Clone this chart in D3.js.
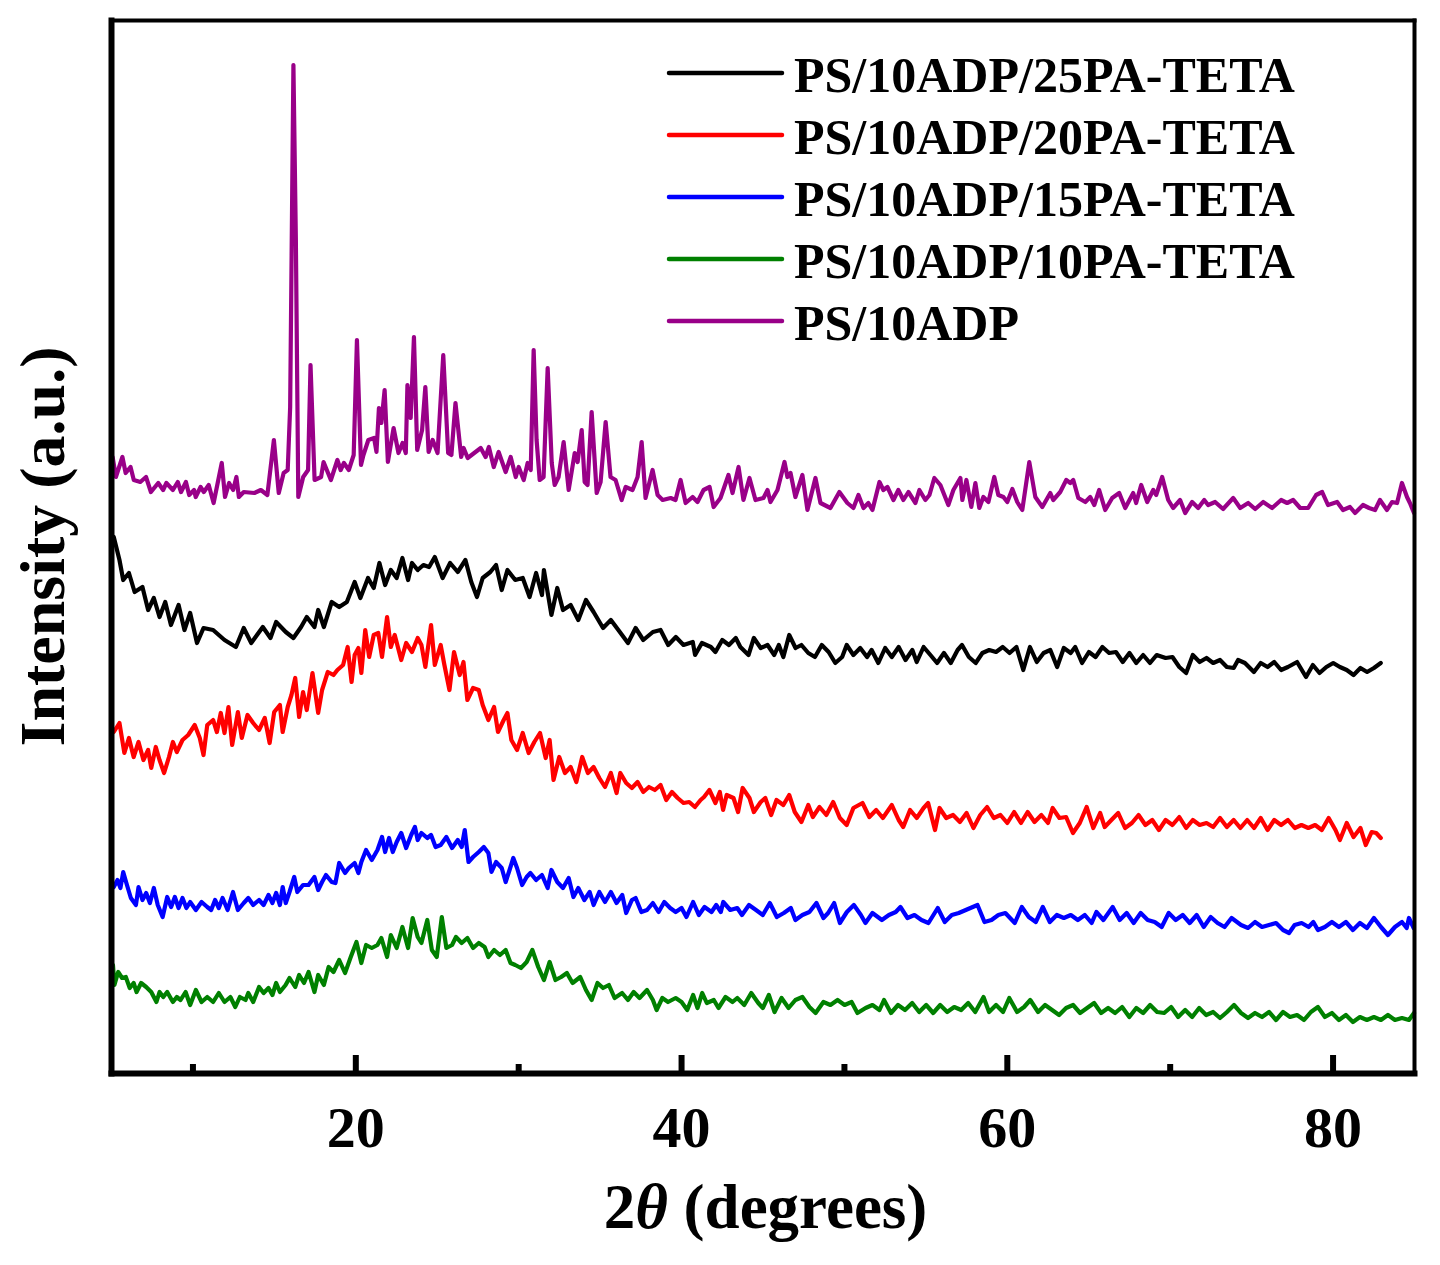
<!DOCTYPE html>
<html>
<head>
<meta charset="utf-8">
<script src="https://cdn.jsdelivr.net/npm/d3@7"></script>
<style>
  body { margin: 0; background: #fff; }
  svg text { font-family: "Liberation Serif", "Times New Roman", serif; font-weight: bold; fill: #000; }
</style>
</head>
<body>
<div id="chart"></div>
<script>
// ====================
// Data (2θ in degrees, intensity in a.u. with the stacking offset included)
// ====================

// PS/10ADP/25PA-TETA
const theta25 = [
  5.17,5.52,5.75,6.10,6.45,6.93,7.28,7.63,7.98,8.33,
  8.68,9.15,9.51,9.86,10.28,10.68,11.27,11.97,12.67,13.15,
  13.61,14.32,14.79,15.14,15.73,16.20,16.67,17.02,17.49,17.72,
  18.07,18.55,19.01,19.48,19.72,19.96,20.31,20.78,21.13,21.48,
  21.83,22.18,22.54,22.89,23.24,23.48,23.83,24.18,24.53,24.88,
  25.36,25.82,26.29,26.76,27.12,27.47,27.82,28.29,28.64,28.99,
  29.34,29.82,30.28,30.70,31.10,31.46,31.58,32.04,32.40,32.75,
  33.22,33.69,34.16,34.63,35.21,35.69,36.15,36.74,37.21,37.68,
  38.27,38.74,39.21,39.68,40.15,40.72,40.86,41.28,41.83,42.11,
  42.53,42.94,43.36,43.64,44.14,44.47,44.89,45.31,45.72,46.00,
  46.28,46.64,47.03,47.39,47.81,48.22,48.64,49.06,49.47,49.89,
  50.17,50.58,51.00,51.42,51.70,52.11,52.53,52.94,53.36,53.78,
  54.20,54.47,54.89,55.31,55.72,56.14,56.56,56.98,57.25,57.67,
  58.09,58.50,58.92,59.34,59.75,60.17,60.59,61.01,61.42,61.84,
  62.26,62.67,63.09,63.50,63.92,64.20,64.62,65.04,65.45,65.87,
  66.28,66.70,67.12,67.53,67.95,68.37,68.79,69.20,69.75,70.17,
  70.59,71.01,71.42,71.84,72.26,72.67,73.09,73.51,73.93,74.20,
  74.62,75.17,75.59,76.01,76.42,76.84,77.26,77.82,78.37,78.79,
  79.20,79.62,80.04,80.45,80.87,81.29,81.71,82.12,82.54,82.96
];
const int25 = [
  538,515,495,502,483,488,465,477,458,473,
  450,470,445,462,432,447,445,435,428,447,
  432,448,437,453,443,437,448,458,448,465,
  448,473,468,473,483,493,477,497,487,512,
  490,505,497,517,495,512,505,510,508,518,
  497,512,503,515,493,478,497,503,510,485,
  505,495,497,478,502,480,505,460,487,465,
  470,455,475,463,447,455,445,432,447,435,
  443,445,430,438,430,433,420,432,428,423,
  435,430,437,428,420,437,427,430,420,430,
  418,440,427,430,422,418,430,423,412,418,
  430,420,427,418,425,412,427,418,428,415,
  425,413,428,420,412,422,412,425,430,418,
  412,422,425,423,428,422,428,405,428,413,
  422,425,408,427,422,428,412,423,418,428,
  422,423,413,422,412,420,412,420,417,418,
  408,402,420,413,417,412,415,408,407,415,
  412,403,412,408,413,405,408,413,398,410,
  402,408,412,408,405,400,407,403,407,412
];

// PS/10ADP/20PA-TETA
const theta20 = [
  5.17,5.52,5.82,6.10,6.39,6.69,6.99,7.28,7.47,7.75,
  7.98,8.26,8.56,8.80,9.04,9.39,9.74,10.14,10.45,10.68,
  10.91,11.27,11.50,11.74,11.97,12.21,12.44,12.79,13.03,13.38,
  13.73,14.09,14.44,14.74,15.02,15.37,15.54,15.85,16.08,16.31,
  16.55,16.79,17.02,17.37,17.72,17.96,18.31,18.66,18.90,19.25,
  19.53,19.77,19.96,20.19,20.37,20.61,20.85,21.13,21.41,21.64,
  21.95,22.18,22.42,22.82,23.12,23.48,23.83,24.06,24.30,24.65,
  24.88,25.24,25.47,25.78,26.06,26.41,26.64,26.88,27.23,27.58,
  27.82,28.17,28.52,28.76,29.11,29.34,29.58,29.93,30.28,30.64,
  30.99,31.34,31.69,31.93,32.17,32.52,32.87,33.22,33.57,33.93,
  34.28,34.63,34.98,35.33,35.69,36.04,36.27,36.63,36.98,37.33,
  37.68,38.03,38.39,38.74,39.09,39.44,39.79,40.15,40.50,40.85,
  41.20,41.41,41.74,42.11,42.38,42.58,42.80,43.22,43.50,43.78,
  44.20,44.47,44.89,45.17,45.53,45.86,46.28,46.64,46.98,47.39,
  47.81,48.09,48.50,48.92,49.34,49.75,50.17,50.58,51.14,51.56,
  51.98,52.39,52.94,53.36,53.64,54.06,54.47,54.89,55.17,55.59,
  55.87,56.28,56.70,57.12,57.53,57.95,58.37,58.79,59.20,59.61,
  60.03,60.45,60.87,61.28,61.70,62.12,62.53,62.81,63.23,63.64,
  64.06,64.48,64.90,65.31,65.73,66.01,66.42,66.84,67.26,67.68,
  68.09,68.51,68.93,69.34,69.75,70.17,70.59,71.01,71.42,71.84,
  72.26,72.67,73.09,73.51,73.93,74.34,74.76,75.18,75.59,76.01,
  76.42,76.84,77.26,77.68,78.09,78.51,78.93,79.34,79.76,80.18,
  80.45,80.87,81.29,81.71,82.04,82.40,82.68,82.96
];
const int20 = [
  343,352,322,337,318,333,315,325,307,328,
  315,302,318,333,323,335,340,350,337,320,
  350,355,343,362,342,368,330,363,337,360,
  352,345,357,332,363,370,343,368,380,397,
  358,383,365,402,362,385,403,400,405,410,
  428,393,420,427,402,445,418,440,442,418,
  458,428,440,415,432,423,437,430,408,450,
  410,430,410,385,423,400,413,375,387,385,
  370,355,368,343,355,362,335,325,342,322,
  333,342,317,335,295,318,302,308,293,318,
  302,308,297,288,302,282,302,292,287,293,
  283,288,285,290,275,283,277,272,273,268,
  275,278,285,272,283,265,280,277,263,287,
  277,263,273,277,260,275,270,280,263,253,
  270,258,268,260,273,257,250,267,272,258,
  265,257,270,255,248,265,257,267,272,245,
  267,257,260,253,262,247,260,268,257,260,
  252,263,252,263,253,260,252,267,257,258,
  242,252,268,247,262,248,255,262,247,252,
  260,250,255,245,255,250,258,247,255,250,
  252,248,257,248,255,247,255,247,257,245,
  255,250,255,247,250,247,250,245,257,245,
  235,252,238,247,230,243,242,237
];

// PS/10ADP/15PA-TETA
const theta15 = [
  5.17,5.40,5.58,5.75,5.98,6.22,6.53,6.69,6.93,7.16,
  7.39,7.63,7.87,8.17,8.45,8.69,8.92,9.15,9.39,9.63,
  9.86,10.21,10.56,10.91,11.15,11.39,11.62,11.85,12.16,12.49,
  12.79,13.15,13.43,13.73,14.09,14.37,14.67,14.91,15.14,15.37,
  15.54,15.73,15.96,16.25,16.44,16.79,17.13,17.49,17.72,17.96,
  18.20,18.55,18.78,19.01,19.37,19.60,19.96,20.19,20.37,20.66,
  21.01,21.36,21.64,21.83,22.07,22.30,22.54,22.82,23.12,23.43,
  23.66,23.83,24.06,24.42,24.65,24.93,25.24,25.59,25.94,26.29,
  26.53,26.72,26.95,27.23,27.58,27.89,28.17,28.36,28.64,28.99,
  29.23,29.47,29.70,29.93,30.24,30.52,30.75,31.10,31.46,31.81,
  32.04,32.40,32.75,33.10,33.39,33.69,34.06,34.39,34.63,34.98,
  35.33,35.69,36.04,36.39,36.63,36.98,37.21,37.56,37.91,38.27,
  38.62,38.97,39.33,39.67,40.03,40.33,40.74,41.09,41.44,41.87,
  42.16,42.44,42.59,43.02,43.45,43.74,44.17,44.60,45.02,45.45,
  45.88,46.31,46.74,47.02,47.45,47.88,48.31,48.74,49.03,49.40,
  49.75,50.18,50.61,51.04,51.32,51.75,52.33,52.76,53.18,53.47,
  53.90,54.33,54.76,55.19,55.76,56.19,56.62,57.05,57.48,57.91,
  58.20,58.63,59.06,59.48,59.91,60.49,60.92,61.35,61.78,62.21,
  62.64,63.07,63.50,63.93,64.36,64.79,65.21,65.50,65.93,66.50,
  66.93,67.36,67.79,68.22,68.65,69.08,69.51,69.94,70.37,70.80,
  71.23,71.66,72.09,72.52,72.94,73.37,73.80,74.38,74.81,75.24,
  75.67,76.10,76.53,76.96,77.33,77.67,78.10,78.53,78.82,79.10,
  79.53,79.96,80.39,80.82,81.25,81.68,82.11,82.54,82.97,83.40,
  83.83,84.26,84.55,84.69,84.98
];
const int15 = [
  188,195,187,203,190,177,170,188,175,182,
  172,187,170,158,178,168,178,167,177,167,
  173,165,173,168,165,175,167,177,165,183,
  165,172,177,170,175,170,180,172,182,170,
  188,172,183,198,183,190,190,198,185,193,
  200,193,192,212,202,207,212,202,213,225,
  215,225,238,223,237,223,233,242,227,240,
  248,235,242,237,240,228,230,238,227,235,
  228,245,213,218,223,228,222,203,213,207,
  193,205,217,207,190,198,202,195,200,187,
  205,193,187,197,178,187,175,183,170,183,
  173,183,172,180,162,175,177,163,165,172,
  163,173,167,163,167,158,173,160,168,163,
  170,163,173,165,167,160,170,165,160,172,
  158,162,167,155,160,163,172,157,162,172,
  152,163,170,160,152,162,155,160,163,168,
  157,160,155,152,167,153,160,162,165,168,
  170,153,155,160,162,152,168,158,153,168,
  153,160,157,160,155,160,152,163,155,168,
  155,162,152,162,155,153,148,162,155,160,
  152,160,148,158,152,148,157,150,147,153,
  148,150,152,145,142,150,152,148,153,145,
  148,153,148,153,145,152,147,157,148,140,
  148,153,147,157,147
];

// PS/10ADP/10PA-TETA
const theta10 = [
  5.12,5.21,5.44,5.68,5.91,6.15,6.39,6.57,6.85,7.16,
  7.47,7.79,7.98,8.21,8.45,8.80,9.04,9.27,9.58,9.86,
  10.21,10.56,10.91,11.27,11.62,11.97,12.33,12.63,12.91,13.26,
  13.43,13.73,14.09,14.37,14.67,14.91,15.14,15.37,15.72,15.96,
  16.31,16.55,16.85,17.13,17.49,17.72,18.07,18.36,18.66,19.01,
  19.37,19.72,20.07,20.37,20.66,21.01,21.36,21.60,21.95,22.18,
  22.54,22.89,23.24,23.52,23.83,24.06,24.42,24.70,25.00,25.31,
  25.59,25.94,26.18,26.53,26.88,27.23,27.58,27.94,28.17,28.52,
  28.88,29.23,29.53,29.82,30.17,30.52,30.87,31.23,31.58,31.93,
  32.29,32.64,32.99,33.34,33.81,34.16,34.51,34.87,35.21,35.57,
  35.92,36.38,36.74,37.09,37.45,37.91,38.27,38.50,38.85,39.20,
  39.67,40.03,40.38,40.74,41.01,41.30,41.58,42.01,42.30,42.73,
  43.16,43.45,43.88,44.31,44.74,45.02,45.39,45.74,46.17,46.60,
  47.02,47.45,47.88,48.26,48.74,49.17,49.61,50.04,50.47,50.83,
  51.33,51.75,52.18,52.46,52.89,53.32,53.75,54.19,54.62,55.05,
  55.48,55.91,56.34,56.77,57.20,57.63,58.06,58.57,58.91,59.34,
  59.77,60.15,60.63,61.06,61.44,61.92,62.35,62.78,63.21,63.64,
  64.07,64.50,64.93,65.36,65.79,66.22,66.65,67.08,67.52,67.95,
  68.37,68.80,69.23,69.66,70.09,70.52,70.95,71.38,71.81,72.24,
  72.67,73.09,73.52,73.95,74.38,74.81,75.24,75.67,76.10,76.53,
  76.96,77.39,77.82,78.25,78.67,79.10,79.53,79.96,80.39,80.82,
  81.25,81.68,82.11,82.54,82.97,83.40,83.83,84.26,84.69,85.00
];
const int10 = [
  110,90,103,97,98,87,92,83,92,88,
  83,73,83,78,83,73,78,75,83,70,
  85,73,78,73,82,73,78,68,78,75,
  82,73,88,82,87,80,92,83,90,97,
  88,100,92,103,83,100,90,108,103,115,
  102,118,133,112,130,127,130,137,118,140,
  127,148,127,157,138,132,155,125,118,158,
  127,130,138,132,137,127,132,128,118,125,
  120,125,112,110,107,113,125,108,95,113,
  95,98,102,92,98,85,75,92,87,90,
  77,82,75,83,77,85,75,65,77,73,
  77,73,65,80,67,82,72,75,67,78,
  73,77,70,82,72,67,80,63,77,67,
  75,78,68,62,73,70,75,70,73,62,
  67,70,65,75,62,70,65,72,63,70,
  62,70,63,68,65,72,63,78,63,70,
  63,77,63,68,75,63,70,65,60,67,
  70,62,67,72,62,67,62,68,58,67,
  62,70,63,62,68,58,65,58,67,60,
  63,57,63,70,62,57,62,58,63,55,
  63,58,60,55,63,68,58,62,55,60,
  53,58,55,58,55,60,55,57,55,62
];

// PS/10ADP
const theta0 = [
  5.10,5.30,5.70,5.90,6.20,6.40,6.80,7.15,7.45,7.90,
  8.20,8.40,8.80,9.10,9.30,9.60,9.80,10.10,10.20,10.50,
  10.70,11.00,11.30,11.55,11.80,12.00,12.25,12.50,12.70,12.85,
  13.15,13.80,14.20,14.60,15.00,15.30,15.60,15.85,16.00,16.20,
  16.35,16.50,16.80,17.10,17.25,17.50,17.90,18.05,18.50,18.90,
  19.10,19.30,19.60,19.90,20.10,20.35,20.50,20.80,21.15,21.30,
  21.45,21.60,21.80,22.00,22.35,22.65,22.90,23.10,23.20,23.40,
  23.60,23.80,24.10,24.30,24.50,24.75,25.05,25.40,25.70,25.90,
  26.15,26.50,26.65,26.90,27.30,27.70,28.00,28.20,28.50,28.80,
  29.23,29.54,29.85,30.03,30.34,30.58,30.77,30.95,31.13,31.32,
  31.56,31.81,32.06,32.24,32.48,32.79,33.10,33.47,33.65,33.90,
  34.08,34.26,34.51,34.82,35.06,35.37,35.67,35.98,36.35,36.60,
  37.02,37.33,37.58,37.82,38.25,38.56,38.87,39.36,39.66,39.97,
  40.28,40.71,41.01,41.38,41.75,42.00,42.42,42.91,43.16,43.53,
  43.83,44.20,44.57,45.06,45.31,45.49,45.92,46.35,46.53,46.72,
  47.02,47.45,47.76,48.25,48.56,49.17,49.72,50.21,50.58,50.89,
  51.20,51.50,51.75,52.18,52.42,52.67,53.04,53.34,53.65,53.96,
  54.39,54.63,55.00,55.25,55.55,55.92,56.41,56.72,57.15,57.27,
  57.52,57.82,58.07,58.31,58.56,58.87,59.23,59.48,59.79,60.03,
  60.34,60.64,60.95,61.38,61.75,62.18,62.67,62.85,63.28,63.65,
  63.90,64.08,64.39,64.82,65.12,65.37,65.67,66.04,66.47,66.90,
  67.27,67.76,67.94,68.25,68.62,68.99,69.17,69.54,69.91,70.21,
  70.64,70.95,71.38,71.75,72.12,72.36,72.79,73.28,73.90,74.33,
  74.82,75.25,75.74,76.29,76.84,77.21,77.58,78.01,78.50,78.99,
  79.36,79.72,80.28,80.64,81.07,81.38,81.87,82.24,82.61,82.91,
  83.34,83.65,83.96,84.26,84.57,84.75,85.00
];
const int0 = [
  618,598,618,602,608,595,593,598,583,592,
  585,592,585,593,583,593,580,585,578,588,
  583,590,572,592,612,578,592,585,598,578,
  583,582,585,580,635,582,602,605,668,1010,
  835,578,598,605,710,595,598,613,595,615,
  605,612,605,620,735,610,620,635,637,623,
  667,652,685,613,647,622,632,622,690,657,
  738,625,645,688,623,635,622,720,622,620,
  672,618,627,617,622,627,618,628,608,623,
  603,618,598,608,595,612,605,725,635,595,
  598,707,612,590,598,633,585,622,613,645,
  593,590,663,582,593,653,598,595,575,588,
  585,598,633,577,605,580,575,577,575,595,
  572,578,573,585,588,568,577,600,582,608,
  575,597,575,577,585,573,585,613,598,602,
  578,600,565,597,572,567,583,572,567,580,
  567,572,565,593,585,588,575,585,575,583,
  572,585,575,580,597,590,570,585,597,575,
  595,568,592,567,578,573,598,580,578,573,
  586,573,565,613,578,568,582,575,583,595,
  592,595,577,573,578,570,585,565,577,582,
  567,582,572,590,573,585,580,598,575,567,
  575,562,573,567,575,570,573,566,577,567,
  572,566,573,567,575,572,575,567,567,580,
  583,570,573,565,568,562,570,567,565,575,
  565,573,572,592,578,572,562
];

const seriesNames  = ["PS/10ADP/25PA-TETA", "PS/10ADP/20PA-TETA", "PS/10ADP/15PA-TETA", "PS/10ADP/10PA-TETA", "PS/10ADP"];
const seriesColors = ["#000000", "#ff0000", "#0000ff", "#008000", "#990088"];
const seriesTheta  = [theta25, theta20, theta15, theta10, theta0];
const seriesInt    = [int25, int20, int15, int10, int0];

const majorTicks = [20, 40, 60, 80];
const minorTicks = [10, 30, 50, 70];

// ====================
// Chart
// ====================
const width = 1440, height = 1265;
const plot = { left: 111, right: 1414, top: 20, bottom: 1073 };

const svg = d3.select("#chart")
  .append("svg")
  .attr("width", width)
  .attr("height", height);

svg.append("rect").attr("width", width).attr("height", height).attr("fill", "#fff");

const x = d3.scaleLinear().domain([5, 85]).range([plot.left, plot.right]);
const y = d3.scaleLinear().domain([2, 1055]).range([plot.bottom, plot.top]);

const line = d3.line()
  .x(d => x(d[0]))
  .y(d => y(d[1]));

// draw the curves (purple first, so the others sit on top)
const curves = svg.append("g").attr("class", "curves");
d3.range(seriesNames.length).reverse().forEach(i => {
  const pts = d3.zip(seriesTheta[i], seriesInt[i]);
  if (seriesTheta[i].length !== seriesInt[i].length) {
    console.warn("length mismatch", seriesNames[i], seriesTheta[i].length, seriesInt[i].length);
  }
  curves.append("path")
    .datum(pts)
    .attr("d", line)
    .attr("fill", "none")
    .attr("stroke", seriesColors[i])
    .attr("stroke-width", 4.2)
    .attr("stroke-linejoin", "round")
    .attr("stroke-linecap", "round");
});

// frame: top and right (thin), left and bottom (thick)
svg.append("g")
  .attr("transform", `translate(0,${plot.top})`)
  .call(d3.axisTop(x).tickValues([]).tickSizeOuter(0))
  .select(".domain").attr("stroke-width", 4).attr("stroke-linecap", "square");

svg.append("g")
  .attr("transform", `translate(${plot.right},0)`)
  .call(d3.axisRight(y).tickValues([]).tickSizeOuter(0))
  .select(".domain").attr("stroke-width", 4).attr("stroke-linecap", "square");

svg.append("g")
  .attr("transform", `translate(${plot.left},0)`)
  .call(d3.axisLeft(y).tickValues([]).tickSizeOuter(0))
  .select(".domain").attr("stroke-width", 6).attr("stroke-linecap", "square");

// minor ticks (inward)
const minorAxis = svg.append("g")
  .attr("transform", `translate(0,${plot.bottom})`)
  .call(d3.axisBottom(x).tickValues(minorTicks).tickSizeInner(-9).tickSizeOuter(0).tickFormat(() => ""));
minorAxis.select(".domain").remove();
minorAxis.selectAll(".tick line").attr("stroke-width", 6);

// major ticks (inward) + labels
const xAxis = svg.append("g")
  .attr("transform", `translate(0,${plot.bottom})`)
  .call(d3.axisBottom(x).tickValues(majorTicks).tickSizeInner(-18).tickSizeOuter(0).tickPadding(33));
xAxis.select(".domain").attr("stroke-width", 6).attr("stroke-linecap", "square");
xAxis.selectAll(".tick line").attr("stroke-width", 6);
xAxis.selectAll(".tick text")
  .attr("font-size", 58)
  .style("font-family", '"Liberation Serif", "Times New Roman", serif')
  .style("font-weight", "bold")
  .attr("fill", "#000");

// axis titles
const xTitle = svg.append("text")
  .attr("x", (plot.left + plot.right) / 2 + 3)
  .attr("y", 1228)
  .attr("text-anchor", "middle")
  .attr("font-size", 63);
xTitle.append("tspan").text("2");
xTitle.append("tspan").attr("font-style", "italic").text("θ");
xTitle.append("tspan").text(" (degrees)");

svg.append("text")
  .attr("transform", `translate(64,${(plot.top + plot.bottom) / 2}) rotate(-90)`)
  .attr("text-anchor", "middle")
  .attr("font-size", 64)
  .text("Intensity (a.u.)");

// legend
const legend = svg.append("g").attr("class", "legend");
seriesNames.forEach((name, i) => {
  const row = legend.append("g").attr("transform", `translate(0,${73 + i * 62})`);
  row.append("line")
    .attr("x1", 669).attr("x2", 782)
    .attr("stroke", seriesColors[i])
    .attr("stroke-width", 4.5)
    .attr("stroke-linecap", "round");
  row.append("text")
    .attr("x", 794)
    .attr("y", 19)
    .attr("font-size", 50)
    .text(name);
});
</script>
</body>
</html>
